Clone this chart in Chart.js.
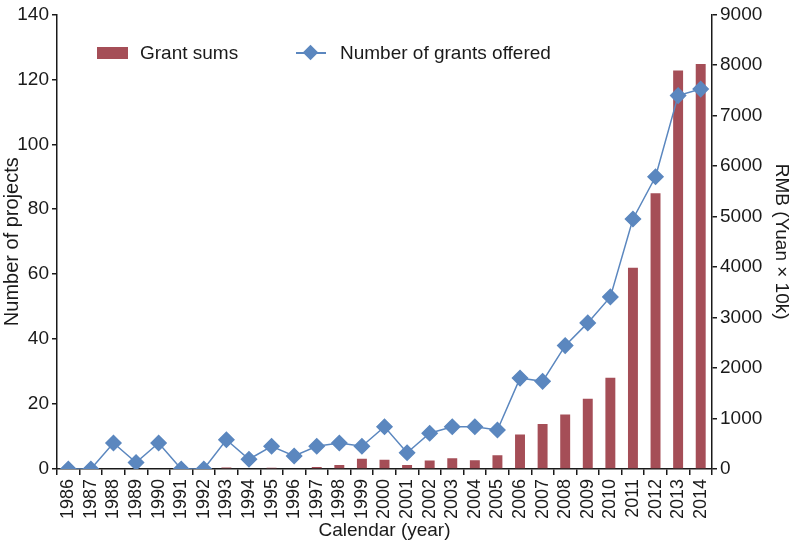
<!DOCTYPE html>
<html>
<head>
<meta charset="utf-8">
<script src="https://cdn.jsdelivr.net/npm/chart.js@4/dist/chart.umd.min.js"></script>
<style>
  body { margin: 0; background: #fff; }
  #wrap { position: relative; width: 795px; height: 546px; font-family: "Liberation Sans", Arial, sans-serif; }
  #legend { position: absolute; left: 97px; top: 40px; font-size: 19px; color: #1a1a1a; }
  .item { position: absolute; top: 0; white-space: nowrap; line-height: 26px; }
  .swatch { position: absolute; left: 0; top: 7px; width: 31px; height: 12px; background: #a54e57; }
  .lineMark { position: absolute; left: 0; top: 12px; width: 30px; height: 1.5px; background: #5b87bf; }
  .diamond { position: absolute; left: 9px; top: 7px; width: 11px; height: 11px; background: #5b87bf; transform: rotate(45deg); }
</style>
</head>
<body>
<div id="wrap">
  <canvas id="chart" width="795" height="546"></canvas>
  <div id="legend">
    <div class="item" style="left:0"><span class="swatch"></span><span style="margin-left:43px">Grant sums</span></div>
    <div class="item" style="left:199px"><span class="lineMark"></span><span class="diamond"></span><span style="margin-left:44px">Number of grants offered</span></div>
  </div>
</div>
<script>
// years on the x axis
const years = [
  "1986", "1987", "1988", "1989", "1990", "1991", "1992", "1993", "1994", "1995",
  "1996", "1997", "1998", "1999", "2000", "2001", "2002", "2003", "2004", "2005",
  "2006", "2007", "2008", "2009", "2010", "2011", "2012", "2013", "2014"
];

// grant sums, RMB (Yuan x 10K), right axis
const grantSums = [
  0, 0, 0, 0, 15, 0, 0, 28, 0, 25,
  15, 40, 78, 205, 185, 80, 170, 211, 171, 270,
  683, 892, 1077, 1392, 1806, 3985, 5460, 7890, 8020
];

// number of grants offered, left axis
const grantCounts = [
  0, 0, 8, 2, 8, 0, 0, 9, 3, 7,
  4, 7, 8, 7, 13, 5, 11, 13, 13, 12,
  28, 27, 38, 45, 53, 77, 90, 115, 117
];

const barColor = "#a54e57";
const lineColor = "#5b87bf";
const textColor = "#1a1a1a";
const fontFamily = "'Liberation Sans', Arial, sans-serif";
const tickFont = { family: fontFamily, size: 19 };
const xTickFont = { family: fontFamily, size: 18 };

const ctx = document.getElementById("chart").getContext("2d");
new Chart(ctx, {
  data: {
    labels: years,
    datasets: [
      {
        type: "line",
        label: "Number of grants offered",
        data: grantCounts,
        yAxisID: "y",
        borderColor: lineColor,
        backgroundColor: lineColor,
        borderWidth: 1.5,
        pointStyle: "rectRot",
        pointRadius: 7.5,
        pointHoverRadius: 7.5,
        tension: 0,
        order: 0
      },
      {
        type: "bar",
        label: "Grant sums",
        data: grantSums,
        yAxisID: "y1",
        backgroundColor: barColor,
        categoryPercentage: 1,
        barPercentage: 0.44,
        order: 1
      }
    ]
  },
  options: {
    responsive: false,
    animation: false,
    layout: { padding: { top: 12, right: 0, left: 0, bottom: 0 } },
    plugins: {
      legend: { display: false },
      tooltip: { enabled: false }
    },
    scales: {
      x: {
        offset: true,
        grid: { drawOnChartArea: false, drawTicks: true, tickLength: 6, color: textColor, lineWidth: 1.5, offset: true },
        border: { color: textColor, width: 1.5 },
        ticks: { color: textColor, font: xTickFont, minRotation: 90, maxRotation: 90, autoSkip: false, padding: 4 },
        title: { display: true, text: "Calendar (year)", color: textColor, font: tickFont, padding: { top: 0, bottom: 4 } },
        afterFit: (scale) => { scale.height = 77; }
      },
      y: {
        position: "left",
        min: 0,
        max: 140,
        ticks: { stepSize: 20, color: textColor, font: tickFont, padding: 3 },
        grid: { drawOnChartArea: false, drawTicks: true, tickLength: 5, color: textColor, lineWidth: 1.5 },
        border: { color: textColor, width: 1.5 },
        title: { display: true, text: "Number of projects", color: textColor, font: { family: fontFamily, size: 20 }, padding: { top: 0, bottom: 0 } },
        afterFit: (scale) => { scale.width = 57; }
      },
      y1: {
        position: "right",
        min: 0,
        max: 9000,
        ticks: { stepSize: 1000, color: textColor, font: tickFont, padding: 3, callback: (v) => String(v) },
        grid: { drawOnChartArea: false, drawTicks: true, tickLength: 5, color: textColor, lineWidth: 1.5 },
        border: { color: textColor, width: 1.5 },
        title: { display: true, text: "RMB (Yuan × 10k)", color: textColor, font: tickFont, padding: { top: 2, bottom: 0 } },
        afterFit: (scale) => { scale.width = 83; }
      }
    }
  }
});
</script>
</body>
</html>
